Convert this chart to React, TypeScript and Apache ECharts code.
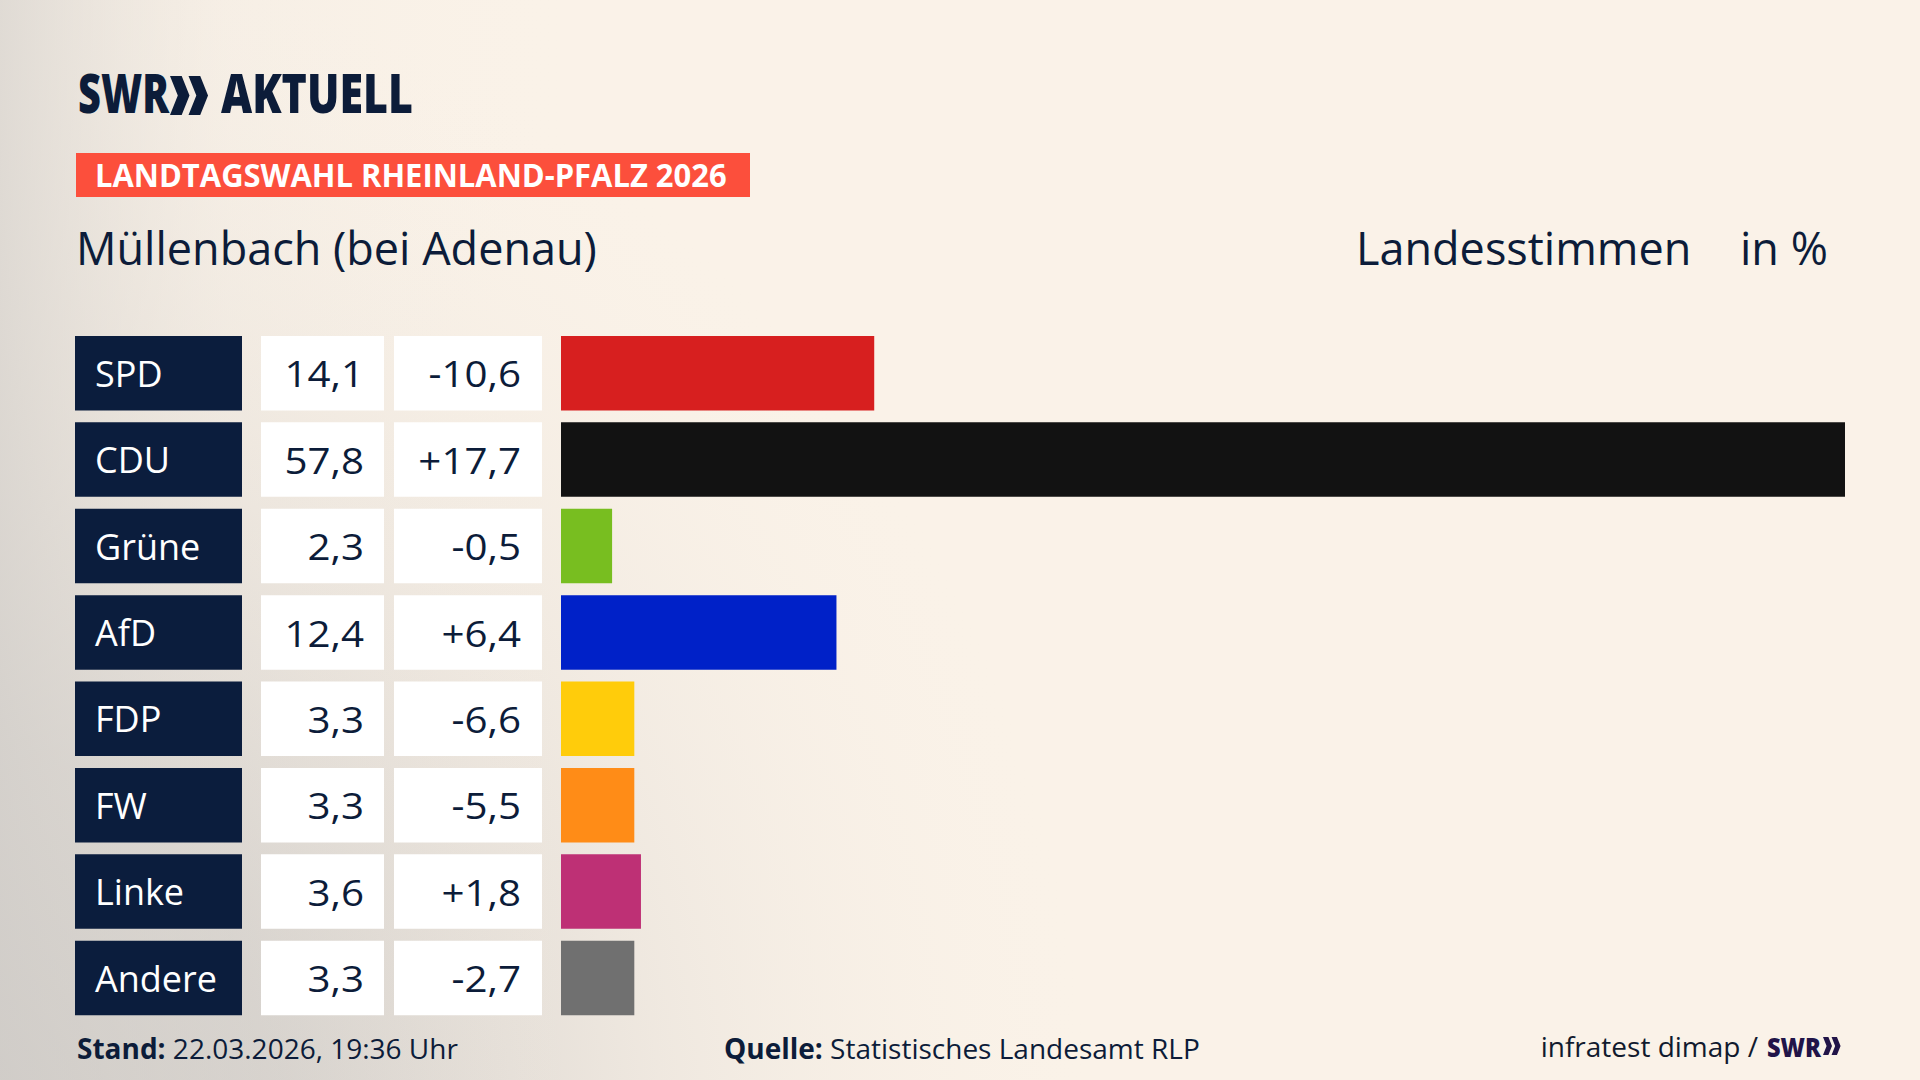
import React, { useEffect, useRef } from "react";
import * as echarts from "echarts";

const parties = ["SPD", "CDU", "Grüne", "AfD", "FDP", "FW", "Linke", "Andere"];
const shares = [14.1, 57.8, 2.3, 12.4, 3.3, 3.3, 3.6, 3.3];
const changes = [-10.6, 17.7, -0.5, 6.4, -6.6, -5.5, 1.8, -2.7];
const partyColors = ["#d71f1f", "#121212", "#78be20", "#0021c8", "#ffcc0b", "#ff8c17", "#be3075", "#707070"];

const titleText = "Müllenbach (bei Adenau)";
const bannerText = "LANDTAGSWAHL RHEINLAND-PFALZ 2026";
const FONT = "'Open Sans', 'Noto Sans', sans-serif";
const NAVY = "#0c1c39";
const BOX = "#0b1d3d";

const fmt = (v: number) => v.toFixed(1).replace(".", ",");
const fmtSigned = (v: number) => (v > 0 ? "+" : "") + fmt(v);

function fitScale(text: string, weight: string, size: number, target: number) {
  const c = document.createElement("canvas").getContext("2d");
  if (!c) return 1;
  c.font = `${weight} ${size}px 'Open Sans', 'Noto Sans', sans-serif`;
  const w = c.measureText(text).width;
  return w > 0 ? target / w : 1;
}

function chevrons(x: number, y: number, h: number, color: string, z = 5) {
  const w = h * 0.5;
  const t = h * 0.3;
  const one = (x0: number) => ({
    type: "polygon",
    z,
    shape: {
      points: [
        [x0, y],
        [x0 + t, y],
        [x0 + w, y + h / 2],
        [x0 + t, y + h],
        [x0, y + h],
        [x0 + w - t, y + h / 2],
      ],
    },
    style: { fill: color },
  });
  return [one(x), one(x + w * 0.95)];
}

export default function App() {
  const ref = useRef<HTMLDivElement>(null);
  useEffect(() => {
    document.body.style.margin = "0";
    if (!ref.current) return;
    const chart = echarts.init(ref.current, null, { renderer: "svg" });

    const sLogo1 = fitScale("SWR", "800", 55, 91);
    const sLogo2 = fitScale("AKTUELL", "800", 55, 192);
    const sBanner = fitScale(bannerText, "bold", 32, 632);
    const sSwr = fitScale("SWR", "800", 27, 54);

    const txt = (
      text: string,
      x: number,
      y: number,
      size: number,
      opts: any = {}
    ) => ({
      type: "text",
      x,
      y,
      scaleX: opts.scaleX ?? 1,
      z: 10,
      style: {
        text,
        x: 0,
        y: 0,
        fill: opts.fill ?? NAVY,
        fontSize: size,
        fontFamily: FONT,
        fontWeight: opts.weight ?? "normal",
        textAlign: opts.align ?? "left",
        align: opts.align ?? "left",
        textVerticalAlign: "middle",
        verticalAlign: "middle",
        rich: opts.rich,
      },
    });

    const boldRich = { b: { fontWeight: "bold", fontSize: 28, fontFamily: FONT, fill: NAVY, color: NAVY } };

    const option: any = {
      animation: false,
      graphic: [
        {
          type: "rect",
          z: -10,
          shape: { x: 0, y: 0, width: 1920, height: 1080 },
          style: { fill: "#faf2e8" },
        },
        {
          type: "rect",
          z: -9,
          shape: { x: 0, y: 0, width: 1920, height: 1080 },
          style: {
            fill: new echarts.graphic.RadialGradient(
              -150,
              1150,
              1250,
              [
                { offset: 0, color: "rgba(176,174,173,1)" },
                { offset: 0.35, color: "rgba(200,197,194,0.85)" },
                { offset: 0.65, color: "rgba(228,222,215,0.5)" },
                { offset: 1, color: "rgba(250,242,232,0)" },
              ],
              true
            ),
          },
        },
        {
          type: "rect",
          z: -8,
          shape: { x: 0, y: 0, width: 1920, height: 1080 },
          style: {
            fill: new echarts.graphic.LinearGradient(
              0,
              0,
              1,
              0,
              [
                { offset: 0, color: "rgba(215,211,206,0.75)" },
                { offset: 0.12, color: "rgba(238,232,224,0.3)" },
                { offset: 0.3, color: "rgba(250,242,232,0)" },
              ]
            ),
          },
        },
        // logo
        txt("SWR", 78, 91.5, 55, { weight: "800", scaleX: sLogo1 }),
        ...chevrons(170, 76, 39, NAVY),
        txt("AKTUELL", 221, 91.5, 55, { weight: "800", scaleX: sLogo2 }),
        // banner
        {
          type: "rect",
          z: 5,
          shape: { x: 76, y: 153, width: 674, height: 44 },
          style: { fill: "#fc4f3c" },
        },
        txt(bannerText, 95, 174, 32, { weight: "bold", fill: "#ffffff", scaleX: sBanner }),
        // titles
        txt(titleText, 76, 247, 45),
        txt("Landesstimmen", 1356, 247, 45),
        txt("in %", 1740, 247, 45),
        // footer
        txt("{b|Stand:} 22.03.2026, 19:36 Uhr", 77, 1047.5, 28, { rich: boldRich }),
        txt("{b|Quelle:} Statistisches Landesamt RLP", 724, 1047.5, 28, { rich: boldRich }),
        txt("infratest dimap /", 1758, 1046, 28, { align: "right", fill: "#111a2e" }),
        txt("SWR", 1767, 1046, 27, { weight: "800", fill: "#211448", scaleX: sSwr }),
        ...chevrons(1823, 1037, 18, "#211448"),
      ],
      grid: { left: 561, top: 330, width: 1284, height: 691.2, containLabel: false },
      xAxis: {
        type: "value",
        min: 0,
        max: Math.max(...shares),
        show: false,
      },
      yAxis: {
        type: "category",
        data: parties,
        inverse: true,
        show: false,
      },
      series: [
        {
          type: "bar",
          data: shares.map((v, i) => ({ value: v, itemStyle: { color: partyColors[i] } })),
          barWidth: 74.5,
          silent: true,
        },
        {
          type: "custom",
          silent: true,
          clip: false,
          data: parties.map((_, i) => [0, i]),
          encode: { x: 0, y: 1 },
          renderItem: (params: any, api: any) => {
            const i = api.value(1);
            const c = api.coord([0, i]);
            const band = api.size([0, 1])[1];
            const h = band * 0.8623;
            const top = c[1] - h / 2;
            const cy = c[1];
            const t = (text: string, x: number, fill: string, align: string, sx: number) => ({
              type: "text",
              x,
              y: cy,
              scaleX: sx,
              style: {
                text,
                x: 0,
                y: 0,
                fill,
                fontSize: 36,
                fontFamily: FONT,
                textAlign: align,
                align,
                textVerticalAlign: "middle",
                verticalAlign: "middle",
              },
            });
            return {
              type: "group",
              children: [
                { type: "rect", shape: { x: 75, y: top, width: 167, height: h }, style: { fill: BOX } },
                { type: "rect", shape: { x: 261, y: top, width: 123, height: h }, style: { fill: "#ffffff" } },
                { type: "rect", shape: { x: 394, y: top, width: 148, height: h }, style: { fill: "#ffffff" } },
                t(parties[i], 95, "#ffffff", "left", 1),
                t(fmt(shares[i]), 364, NAVY, "right", 1.12),
                t(fmtSigned(changes[i]), 521, NAVY, "right", 1.12),
              ],
            };
          },
        },
      ],
    };
    chart.setOption(option);
    return () => chart.dispose();
  }, []);
  return <div ref={ref} style={{ width: 1920, height: 1080 }} />;
}
